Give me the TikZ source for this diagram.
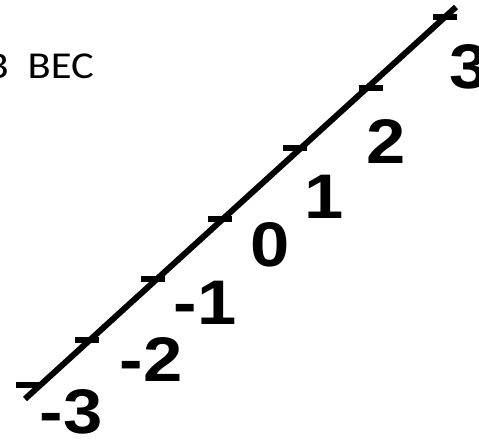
\documentclass[tikz,border=0pt]{standalone}
\usepackage{fontspec}
\newfontfamily\numfont[FakeStretch=1.12]{Liberation Sans}
\newfontfamily\capfont[FakeStretch=1.12]{Carlito}
\begin{document}
\begin{tikzpicture}[x=1pt, y=1pt,
    axis/.style={line width=6pt},
    tick/.style={line width=5.5pt},
    num/.style={inner sep=0pt, font=\numfont\bfseries\fontsize{63}{63}\selectfont}]
    \useasboundingbox (0,0) rectangle (479,440);
    \node (cap) [anchor=base east, inner sep=0pt, font=\capfont\fontsize{38}{38}\selectfont] at (94,361) {B\hspace{19pt}BEC};
    \coordinate (lo) at (25,41);
    \coordinate (hi) at (456,433);
    \draw[axis] (lo) -- (hi);
    \coordinate (tm3) at (28,55);
    \coordinate (tm2) at (87,100);
    \coordinate (tm1) at (153,161);
    \coordinate (t0) at (220,221);
    \coordinate (t1) at (295,292);
    \coordinate (t2) at (371,352);
    \coordinate (t3) at (445,423);
    \draw[tick] ([xshift=-12pt]tm3) -- ([xshift=12pt]tm3);
    \draw[tick] ([xshift=-12pt]tm2) -- ([xshift=12pt]tm2);
    \draw[tick] ([xshift=-12pt]tm1) -- ([xshift=12pt]tm1);
    \draw[tick] ([xshift=-12pt]t0) -- ([xshift=12pt]t0);
    \draw[tick] ([xshift=-12pt]t1) -- ([xshift=12pt]t1);
    \draw[tick] ([xshift=-12pt]t2) -- ([xshift=12pt]t2);
    \draw[tick] ([xshift=-12pt]t3) -- ([xshift=12pt]t3);
    \node (lm3) [num] at (71,28) {-3};
    \node (lm2) [num] at (151,80) {-2};
    \node (lm1) [num] at (205,137) {-1};
    \node (l0) [num] at (270,195) {0};
    \node (l1) [num] at (324,243) {1};
    \node (l2) [num] at (386,298) {2};
    \node (l3) [num] at (469,373) {3};
\end{tikzpicture}
\end{document}
